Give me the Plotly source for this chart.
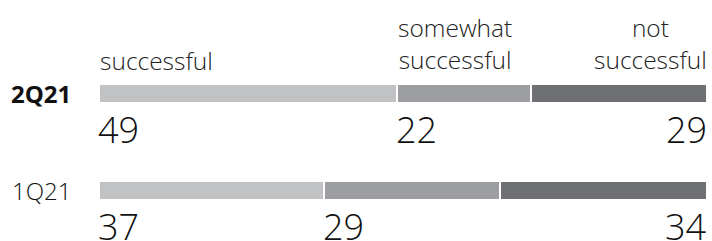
import plotly.graph_objects as go

periods = ["1Q21", "2Q21"]
categories = ["successful", "somewhat<br>successful", "not<br>successful"]
successful = [37, 49]
somewhat = [29, 22]
not_successful = [34, 29]
colors = ["#c1c2c4", "#9d9ea2", "#6f7074"]

series = [successful, somewhat, not_successful]
FONT = "Open Sans"

fig = go.Figure()
for name, vals, col in zip(categories, series, colors):
    fig.add_trace(go.Bar(
        y=periods, x=vals, orientation="h", name=name,
        marker=dict(color=col, line=dict(color="white", width=2)),
        width=0.19, showlegend=False, hoverinfo="skip",
    ))

ann = []
for i, p in enumerate(periods):
    bold = (i == len(periods) - 1)
    ann.append(dict(x=0, y=p, xref="x", yref="y", text=f"<b>{p}</b>" if bold else p,
                    xanchor="right", yanchor="middle", xshift=-26, showarrow=False,
                    font=dict(family=FONT, size=24, color="#111",
                              weight=700 if bold else 300)))
    starts = [0, series[0][i], series[0][i] + series[1][i]]
    for k in range(3):
        v = series[k][i]
        if k < 2:
            ann.append(dict(x=starts[k], y=p, xref="x", yref="y", text=str(v),
                            xanchor="left", yanchor="middle", yshift=-36, xshift=-3,
                            showarrow=False,
                            font=dict(family=FONT, size=36, color="#111", weight=300)))
        else:
            ann.append(dict(x=100, y=p, xref="x", yref="y", text=str(v),
                            xanchor="right", yanchor="middle", yshift=-36, xshift=2,
                            showarrow=False,
                            font=dict(family=FONT, size=36, color="#111", weight=300)))

top = periods[-1]
hstarts = [0, series[0][-1], 100]
for k, c in enumerate(categories):
    anchor = "right" if k == 2 else "left"
    ann.append(dict(x=hstarts[k], y=top, xref="x", yref="y", text=c,
                    xanchor=anchor, yanchor="bottom", yshift=15, xshift=-1 if k < 2 else 2,
                    showarrow=False,
                    font=dict(family=FONT, size=24.5, color="#222", weight=300)))

fig.update_layout(
    barmode="stack", bargap=0,
    width=712, height=241,
    margin=dict(l=99, r=5, t=45, b=2),
    plot_bgcolor="white", paper_bgcolor="white",
    xaxis=dict(range=[0, 100], visible=False, fixedrange=True),
    yaxis=dict(type="category", categoryorder="array", categoryarray=periods,
               range=[-0.5, 1.5], visible=False),
    annotations=ann,
)
fig.write_html(
    "out.html",
    config={"displayModeBar": False},
    post_script="document.body.style.margin='0';document.body.style.overflow='hidden';",
)
